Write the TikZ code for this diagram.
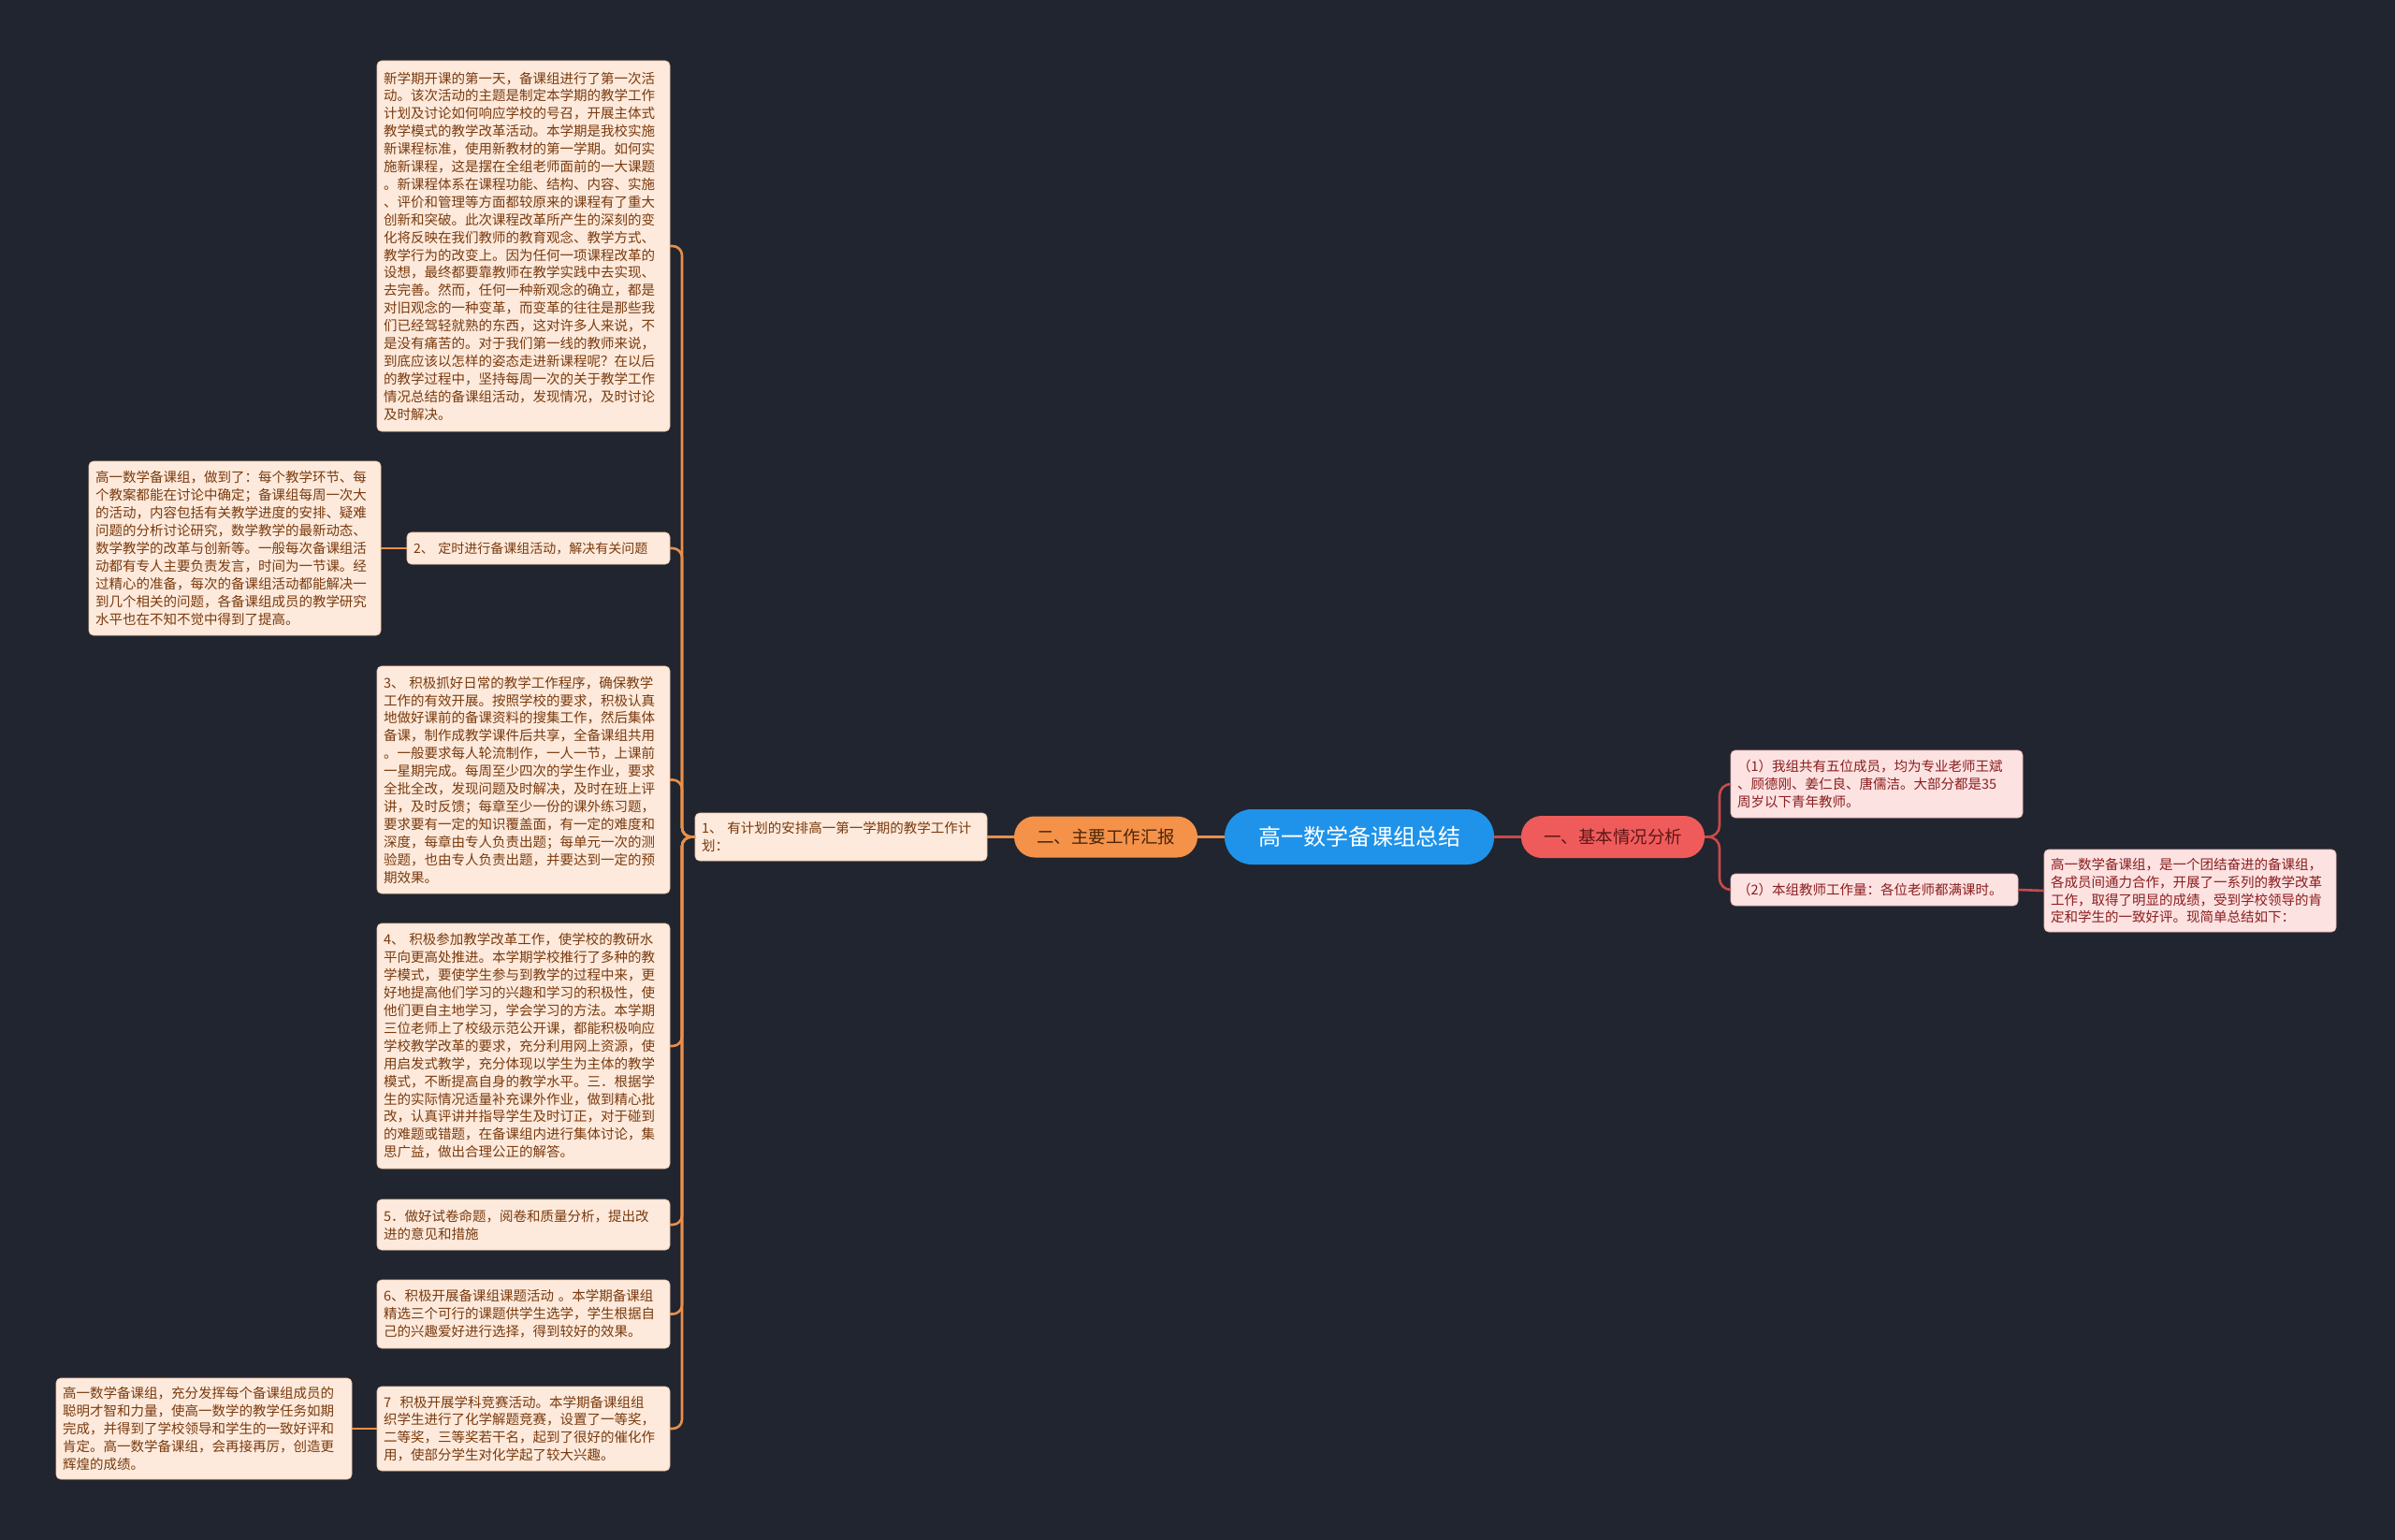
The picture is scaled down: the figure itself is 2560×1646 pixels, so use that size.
\documentclass[tikz,border=0pt]{standalone}
\usepackage{fontspec}
\setmainfont{Noto Sans CJK SC}
\definecolor{bg}{HTML}{21252F}
\definecolor{cblue}{HTML}{1F93EA}
\definecolor{onefill}{HTML}{EF5B5B}
\definecolor{onetext}{HTML}{5E1717}
\definecolor{twofill}{HTML}{F5924A}
\definecolor{twotext}{HTML}{4A2508}
\definecolor{lfill}{HTML}{FDEADC}
\definecolor{lbord}{HTML}{F2C9A8}
\definecolor{ltext}{HTML}{7A3A0E}
\definecolor{rfill}{HTML}{FDE2E2}
\definecolor{rbord}{HTML}{F0B8B8}
\definecolor{rtext}{HTML}{8A1E1E}
\definecolor{ocol}{HTML}{E98F4A}
\definecolor{rcol}{HTML}{C94A4A}
\begin{document}
\begin{tikzpicture}[x=1pt,y=-1pt,
  every node/.style={outer sep=0pt},
  boxbase/.style={anchor=north west, rounded corners=5pt, line width=0.8pt,
     align=left, inner xsep=7pt, inner ysep=4pt,
     font=\fontsize{14.5}{18.9}\selectfont},
  lbox/.style={boxbase, draw=lbord, fill=lfill, text=ltext},
  rbox/.style={boxbase, draw=rbord, fill=rfill, text=rtext},
  oline/.style={draw=ocol, line width=2.6pt, rounded corners=10pt},
  rline/.style={draw=rcol, line width=2.6pt, rounded corners=12pt}]
\fill[bg] (0,0) rectangle (2560,1646);
\useasboundingbox (0,0) rectangle (2560,1646);

% central and main branches
\node[fill=cblue, text=white, rounded corners=29pt, minimum width=288, minimum height=59,
  font=\fontsize{24}{28}\selectfont] (c) at (1453,894.5) {高一数学备课组总结};
\node[fill=onefill, text=onetext, rounded corners=22pt, minimum width=196, minimum height=45,
  font=\fontsize{18.5}{22}\selectfont] (one) at (1724,894.5) {一、基本情况分析};
\node[fill=twofill, text=twotext, rounded corners=22pt, minimum width=196, minimum height=44,
  font=\fontsize{18.5}{22}\selectfont] (two) at (1182,894.5) {二、主要工作汇报};

% left side
\node[lbox, minimum width=312, minimum height=51, text width=298] (n1) at (743,869)
  {1、 有计划的安排高一第一学期的教学工作计\\划：};

\node[lbox, minimum width=313, minimum height=396, text width=299] (a) at (403,65)
  {新学期开课的第一天，备课组进行了第一次活\\
   动。该次活动的主题是制定本学期的教学工作\\
   计划及讨论如何响应学校的号召，开展主体式\\
   教学模式的教学改革活动。本学期是我校实施\\
   新课程标准，使用新教材的第一学期。如何实\\
   施新课程，这是摆在全组老师面前的一大课题\\
   。新课程体系在课程功能、结构、内容、实施\\
   、评价和管理等方面都较原来的课程有了重大\\
   创新和突破。此次课程改革所产生的深刻的变\\
   化将反映在我们教师的教育观念、教学方式、\\
   教学行为的改变上。因为任何一项课程改革的\\
   设想，最终都要靠教师在教学实践中去实现、\\
   去完善。然而，任何一种新观念的确立，都是\\
   对旧观念的一种变革，而变革的往往是那些我\\
   们已经驾轻就熟的东西，这对许多人来说，不\\
   是没有痛苦的。对于我们第一线的教师来说，\\
   到底应该以怎样的姿态走进新课程呢？在以后\\
   的教学过程中，坚持每周一次的关于教学工作\\
   情况总结的备课组活动，发现情况，及时讨论\\
   及时解决。};

\node[lbox, minimum width=281, minimum height=34, text width=267, font=\fontsize{14}{18}\selectfont] (b2) at (435,569)
  {2、 定时进行备课组活动，解决有关问题};

\node[lbox, minimum width=312, minimum height=186, text width=298] (l2) at (95,493)
  {高一数学备课组，做到了：每个教学环节、每\\
   个教案都能在讨论中确定；备课组每周一次大\\
   的活动，内容包括有关教学进度的安排、疑难\\
   问题的分析讨论研究，数学教学的最新动态、\\
   数学教学的改革与创新等。一般每次备课组活\\
   动都有专人主要负责发言，时间为一节课。经\\
   过精心的准备，每次的备课组活动都能解决一\\
   到几个相关的问题，各备课组成员的教学研究\\
   水平也在不知不觉中得到了提高。};

\node[lbox, minimum width=313, minimum height=243, text width=299] (b3) at (403,712)
  {3、 积极抓好日常的教学工作程序，确保教学\\
   工作的有效开展。按照学校的要求，积极认真\\
   地做好课前的备课资料的搜集工作，然后集体\\
   备课，制作成教学课件后共享，全备课组共用\\
   。一般要求每人轮流制作，一人一节，上课前\\
   一星期完成。每周至少四次的学生作业，要求\\
   全批全改，发现问题及时解决，及时在班上评\\
   讲，及时反馈；每章至少一份的课外练习题，\\
   要求要有一定的知识覆盖面，有一定的难度和\\
   深度，每章由专人负责出题；每单元一次的测\\
   验题，也由专人负责出题，并要达到一定的预\\
   期效果。};

\node[lbox, minimum width=313, minimum height=262, text width=299] (b4) at (403,987)
  {4、 积极参加教学改革工作，使学校的教研水\\
   平向更高处推进。本学期学校推行了多种的教\\
   学模式，要使学生参与到教学的过程中来，更\\
   好地提高他们学习的兴趣和学习的积极性，使\\
   他们更自主地学习，学会学习的方法。本学期\\
   三位老师上了校级示范公开课，都能积极响应\\
   学校教学改革的要求，充分利用网上资源，使\\
   用启发式教学，充分体现以学生为主体的教学\\
   模式，不断提高自身的教学水平。三．根据学\\
   生的实际情况适量补充课外作业，做到精心批\\
   改，认真评讲并指导学生及时订正，对于碰到\\
   的难题或错题，在备课组内进行集体讨论，集\\
   思广益，做出合理公正的解答。};

\node[lbox, minimum width=313, minimum height=54, text width=299] (b5) at (403,1282)
  {5．做好试卷命题，阅卷和质量分析，提出改\\进的意见和措施};

\node[lbox, minimum width=313, minimum height=73, text width=299] (b6) at (403,1368)
  {6、积极开展备课组课题活动 。本学期备课组\\
   精选三个可行的课题供学生选学，学生根据自\\
   己的兴趣爱好进行选择，得到较好的效果。};

\node[lbox, minimum width=313, minimum height=90, text width=299] (b7) at (403,1482)
  {7\ \ 积极开展学科竞赛活动。本学期备课组组\\
   织学生进行了化学解题竞赛，设置了一等奖，\\
   二等奖，三等奖若干名，起到了很好的催化作\\
   用，使部分学生对化学起了较大兴趣。};

\node[lbox, minimum width=316, minimum height=108, text width=302] (l7) at (60,1473)
  {高一数学备课组，充分发挥每个备课组成员的\\
   聪明才智和力量，使高一数学的教学任务如期\\
   完成，并得到了学校领导和学生的一致好评和\\
   肯定。高一数学备课组，会再接再厉，创造更\\
   辉煌的成绩。};

% right side
\node[rbox, minimum width=312, minimum height=72, text width=298] (r1) at (1850,802)
  {（1）我组共有五位成员，均为专业老师王斌\\
   、顾德刚、姜仁良、唐儒洁。大部分都是35\\
   周岁以下青年教师。};
\node[rbox, minimum width=307, minimum height=34, text width=293] (r2) at (1850,934)
  {（2）本组教师工作量：各位老师都满课时。};
\node[rbox, minimum width=312, minimum height=88, text width=298] (r3) at (2185,908)
  {高一数学备课组，是一个团结奋进的备课组，\\
   各成员间通力合作，开展了一系列的教学改革\\
   工作，取得了明显的成绩，受到学校领导的肯\\
   定和学生的一致好评。现简单总结如下：};

% connectors
\coordinate (lt) at (729,894.5);
\coordinate (rt) at (1838,894.5);
\draw[oline] (c.west) -- (two.east);
\draw[oline] (two.west) -- (n1.east);
\foreach \t in {a,b2,b3,b4,b5,b6,b7}
  \draw[oline] (n1.west) -- (lt) |- (\t.east);
\draw[oline] (b2.west) -- (l2.east);
\draw[oline] (b7.west) -- (l7.east);

\draw[rline] (c.east) -- (one.west);
\foreach \t in {r1,r2}
  \draw[rline] (one.east) -- (rt) |- (\t.west);
\draw[rline] (r2.east) -- (r3.west);
\end{tikzpicture}
\end{document}
